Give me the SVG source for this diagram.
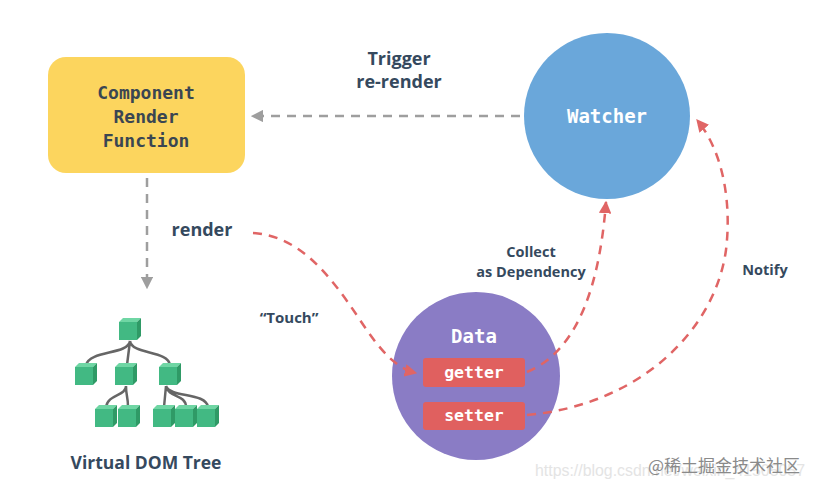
<svg xmlns="http://www.w3.org/2000/svg" width="817" height="491" viewBox="0 0 817 491">
<defs>
<style>
.mono{font-family:"DejaVu Sans Mono","Liberation Mono",monospace;font-weight:bold;text-anchor:middle}
.lbl{font-family:"Open Sans","Liberation Sans",sans-serif;font-weight:bold;fill:#35495e;text-anchor:middle}
.gray{fill:none;stroke:#9e9e9e;stroke-width:2.5;stroke-dasharray:9 7}
.red{fill:none;stroke:#e06565;stroke-width:2.5;stroke-dasharray:9 7}
.tree{fill:none;stroke:#666;stroke-width:2.5}
</style>
<marker id="ag" viewBox="0 0 10 10" refX="9" refY="5" markerWidth="5" markerHeight="5" orient="auto" markerUnits="strokeWidth"><path d="M0,0 L10,5 L0,10 z" fill="#9e9e9e"/></marker>
<marker id="ar" viewBox="0 0 10 10" refX="9" refY="5" markerWidth="5" markerHeight="5" orient="auto" markerUnits="strokeWidth"><path d="M0,0 L10,5 L0,10 z" fill="#e06565"/></marker>
<g id="cube">
<rect x="0" y="4" width="18" height="18" fill="#42b983"/>
<polygon points="0,4 4,0 22,0 18,4" fill="#6fd6a4"/>
<polygon points="18,4 22,0 22,18 18,22" fill="#2f9a66"/>
</g>
</defs>
<rect width="817" height="491" fill="#fff"/>

<g id="render-function">
<rect x="48" y="57" width="197" height="116" rx="18" fill="#fcd55e"/>
<text class="mono" x="146" y="99" font-size="18" fill="#3a4652">Component</text>
<text class="mono" x="146" y="123" font-size="18" fill="#3a4652">Render</text>
<text class="mono" x="146" y="147" font-size="18" fill="#3a4652">Function</text>
</g>

<g id="watcher">
<circle cx="607" cy="116" r="83" fill="#6aa7da"/>
<text class="mono" x="607" y="123" font-size="19" fill="#fff">Watcher</text>
</g>

<g id="data">
<circle cx="476" cy="376" r="84" fill="#8a7cc5"/>
<text class="mono" x="474" y="343" font-size="19" fill="#fff">Data</text>
<g id="getter">
<rect x="423" y="358" width="102" height="29" rx="3" fill="#e0605f"/>
<text class="mono" x="474" y="378" font-size="16.5" fill="#fff">getter</text>
</g>
<g id="setter">
<rect x="423" y="402" width="102" height="28" rx="3" fill="#e0605f"/>
<text class="mono" x="474" y="421" font-size="16.5" fill="#fff">setter</text>
</g>
</g>

<g id="vdom-tree">
<path class="tree" d="M130,341 C128,355 90,350 86,365 M130,341 L127,365 M130,341 C132,355 168,350 170,365 M126,386 C126,396 108,394 106,407 M126,386 C126,396 128,396 128,407 M166,386 L164,407 M166,386 C168,398 186,394 186,407 M166,386 C170,398 206,392 208,407"/>
<use href="#cube" x="119" y="318"/>
<use href="#cube" x="75" y="363"/>
<use href="#cube" x="115" y="363"/>
<use href="#cube" x="159" y="363"/>
<use href="#cube" x="95" y="405"/>
<use href="#cube" x="118" y="405"/>
<use href="#cube" x="153" y="405"/>
<use href="#cube" x="175" y="405"/>
<use href="#cube" x="197" y="405"/>
<text class="lbl" x="146" y="469" font-size="17.5">Virtual DOM Tree</text>
</g>

<g id="connectors">
<path class="gray" d="M520,116 L252,116" marker-end="url(#ag)"/>
<path class="gray" d="M147,178 L147,288" marker-end="url(#ag)"/>
<path class="red" d="M253,233 C300,236 330,275 360,320 C380,350 395,368 416,373" marker-end="url(#ar)"/>
<path class="red" d="M527,372 C580,350 600,280 606,202" marker-end="url(#ar)"/>
<path class="red" d="M527,415 C640,405 715,330 726,250 C732,200 722,150 697,120" marker-end="url(#ar)"/>
</g>

<g id="labels">
<text class="lbl" x="399" y="65" font-size="18">Trigger</text>
<text class="lbl" x="399" y="88" font-size="18">re-render</text>
<text class="lbl" x="202" y="236" font-size="18">render</text>
<text class="lbl" x="289" y="323" font-size="15">“Touch”</text>
<text class="lbl" x="531" y="257" font-size="14.5">Collect</text>
<text class="lbl" x="531" y="277" font-size="14.5">as Dependency</text>
<text class="lbl" x="765" y="275" font-size="14.5">Notify</text>
</g>

<g id="watermark">
<text x="535" y="476" font-family="'Liberation Sans',sans-serif" font-size="16" fill="#e4e4e4" textLength="270" lengthAdjust="spacingAndGlyphs">https://blog.csdn.net/weixin_41505057</text>
<text x="648" y="472" font-family="'Noto Sans CJK SC',sans-serif" font-size="17" fill="#8a8a8a">@稀土掘金技术社区</text>
</g>
</svg>
